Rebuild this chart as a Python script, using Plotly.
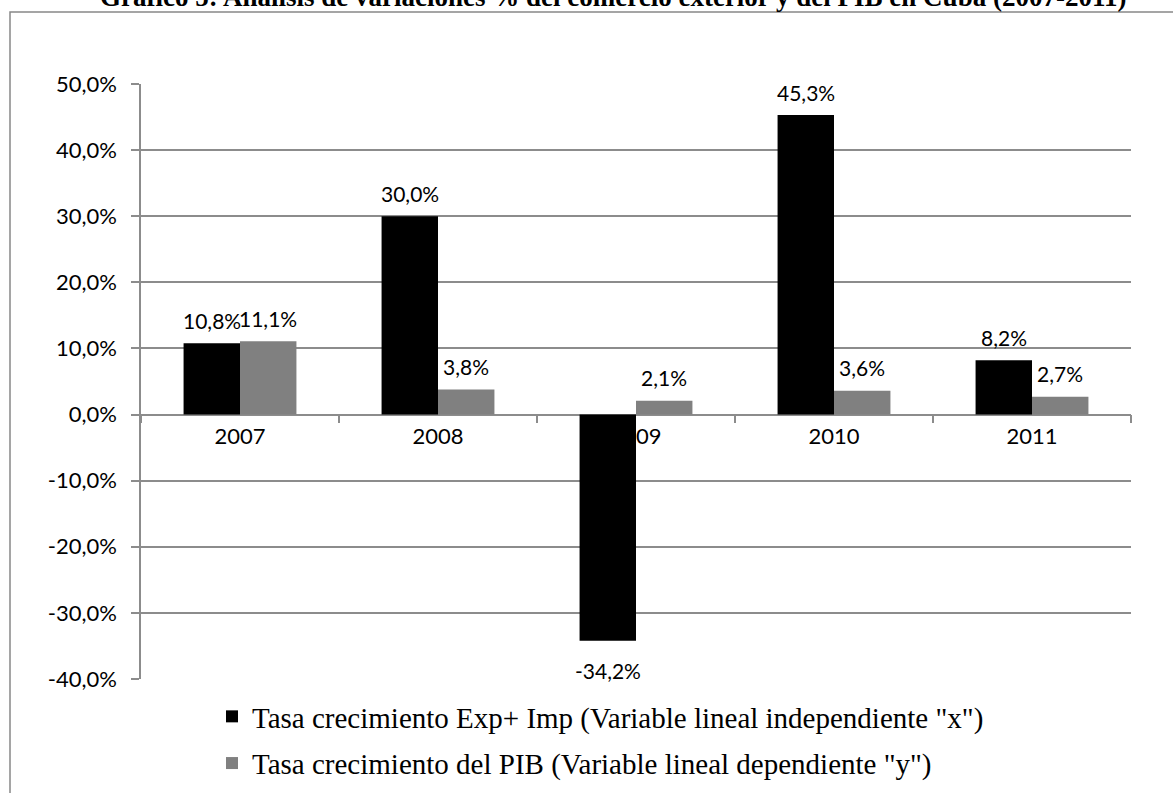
import plotly.graph_objects as go

years = ["2007", "2008", "2009", "2010", "2011"]
exp_imp = [10.8, 30.0, -34.2, 45.3, 8.2]
pib = [11.1, 3.8, 2.1, 3.6, 2.7]
name_x = 'Tasa crecimiento Exp+ Imp (Variable lineal independiente "x")'
name_y = 'Tasa crecimiento del PIB (Variable lineal dependiente "y")'
title = "Gráfico 5: Análisis de variaciones % del comercio exterior y del PIB en Cuba (2007-2011)"
y_ticks = [-40, -30, -20, -10, 0, 10, 20, 30, 40, 50]

W, H = 1173, 793
L, R, T, B = 141, 42, 84, 114
bargap = 0.43
ymin, ymax = -40, 50

GRID = "#8c8c8c"
TICK_FONT = dict(family="Lato", size=22, color="#000000")
LABEL_FONT = dict(family="Lato", size=21, color="#000000")

fig = go.Figure()
fig.add_trace(go.Bar(x=years, y=exp_imp, name=name_x, marker=dict(color="#000000", line=dict(width=0)),
                     legendgroup="a"))
fig.add_trace(go.Bar(x=years, y=pib, name=name_y, marker=dict(color="#808080", line=dict(width=0)),
                     legendgroup="b"))

def fmt(v):
    return f"{v:.1f}".replace(".", ",") + "%"

pw = W - L - R
ph = H - T - B
def px_x(p):
    return (p - L) / pw
def px_y(p):
    return (H - B - p) / ph

bw = (1 - bargap) / 2
annotations = []
for k, series in enumerate([exp_imp, pib]):
    off = -bw / 2 if k == 0 else bw / 2
    for i, v in enumerate(series):
        annotations.append(dict(x=i + off, y=v, xref="x", yref="y", text=fmt(v), showarrow=False,
                                font=LABEL_FONT, yshift=23 if v >= 0 else -30))

annotations.append(dict(x=px_x(613), y=px_y(14), xref="paper", yref="paper", text="<b>" + title + "</b>",
                        showarrow=False, yanchor="bottom", xanchor="center",
                        font=dict(family="Liberation Serif", size=27, color="#000000")))

shapes = [dict(type="rect", xref="paper", yref="paper", x0=px_x(10), x1=px_x(1185), y0=px_y(12), y1=px_y(900),
               line=dict(color="#888888", width=1.5), fillcolor="rgba(0,0,0,0)", layer="below")]

fig.update_layout(
    width=W, height=H,
    margin=dict(l=L, r=R, t=T, b=B, autoexpand=False),
    paper_bgcolor="white", plot_bgcolor="white",
    barmode="group", bargap=bargap, bargroupgap=0,
    separators=",.",
    showlegend=True,
    legend=dict(x=px_x(212), y=px_y(691), xanchor="left", yanchor="top", orientation="v",
                font=dict(family="Liberation Serif", size=29, color="#000000"),
                tracegroupgap=6, bgcolor="rgba(0,0,0,0)", itemclick=False),
    annotations=annotations,
    shapes=shapes,
    xaxis=dict(type="category", anchor="free", position=(0 - ymin) / (ymax - ymin),
               showline=True, linecolor=GRID, linewidth=1.5,
               ticks="outside", tickson="boundaries", ticklen=8, tickcolor=GRID, tickwidth=1.5,
               tickfont=TICK_FONT, showgrid=False, layer="below traces", zeroline=False,
               ticklabelstandoff=2),
    yaxis=dict(range=[ymin, ymax], tickvals=y_ticks, ticktext=[fmt(v) for v in y_ticks],
               showline=True, linecolor=GRID, linewidth=1.5,
               ticks="outside", ticklen=8, tickcolor=GRID, tickwidth=1.5,
               showgrid=True, gridcolor=GRID, gridwidth=1.5, zeroline=False,
               tickfont=TICK_FONT, ticklabelstandoff=10),
)

fig.write_html("out.html", config={"displayModeBar": False},
               post_script="document.body.style.margin='0';")
